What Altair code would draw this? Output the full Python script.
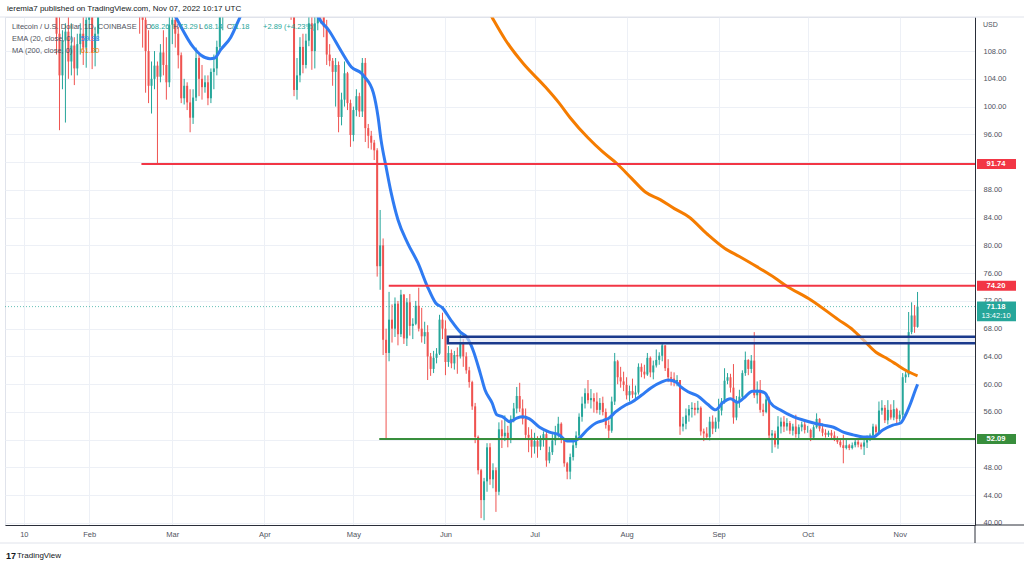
import json
import numpy as np
import pandas as pd
import altair as alt

# ---------------- data ----------------
first_open = 128.0  # open of Jan 21, 2022

close_jan = [110.5,104.5,109.5,110.8,106.5,108.8,105.5,109.0,110.5,108.5,112.5]
high_jan = [129.5,113.0,111.0,112.0,113.5,112.0,110.0,110.5,112.0,113.0,114.0]
low_jan = [107.5,96.6,102.5,97.7,104.0,104.5,103.1,104.5,107.5,106.0,105.6]

close_feb = [113.5,107.8,110.5,126.0,129.0,134.0,142.0,137.5,140.0,132.0,126.0,127.0,125.0,127.5,134.0,131.0,118.0,113.5,112.5,108.0,103.0,104.0,105.9,104.3,107.8,106.0,103.5,111.8]
high_feb = [115.5,114.0,111.5,127.0,131.0,135.0,145.0,143.0,142.0,145.0,134.0,130.0,129.0,129.0,135.0,135.0,132.0,120.0,115.5,113.5,111.0,106.5,108.0,106.5,109.0,111.0,110.0,113.0]
low_feb = [109.5,105.4,105.8,109.5,124.0,127.0,132.0,131.0,135.0,130.0,124.0,123.0,123.0,121.0,127.0,128.0,116.5,110.5,108.5,102.0,100.5,99.0,102.5,91.74,103.5,104.5,101.0,102.8]

close_mar = [112.5,110.5,107.4,101.2,103.0,100.6,98.4,101.3,107.0,104.0,102.8,103.5,101.2,105.0,105.5,108.6,113.5,117.0,119.0,116.0,117.0,120.5,121.5,124.0,124.5,124.5,129.0,128.0,130.0,131.0,126.0]
high_mar = [116.0,114.0,111.5,107.8,104.0,103.5,102.5,102.5,108.5,107.5,106.0,104.5,104.5,105.5,107.5,109.5,115.0,118.5,121.0,120.0,119.0,123.0,123.0,125.0,128.0,126.0,130.0,133.0,133.0,134.0,133.0]
low_mar = [109.0,108.5,105.5,100.5,100.3,99.5,96.3,97.5,100.8,101.5,101.0,102.0,100.2,100.5,102.5,104.5,108.0,111.0,115.5,114.5,114.0,116.5,118.0,119.5,122.0,122.5,123.5,126.0,126.5,127.0,124.5]

close_apr = [131.5,131.0,135.0,133.5,128.0,119.0,120.5,115.5,116.0,113.0,102.4,104.5,108.6,106.0,109.5,112.0,108.0,112.0,115.0,113.5,111.5,107.5,106.6,105.0,106.0,98.5,101.0,104.8,100.5,95.9]
high_apr = [132.5,136.0,136.0,136.0,134.5,128.5,122.0,121.5,117.0,117.5,113.0,107.0,110.0,110.5,110.5,113.5,113.0,113.5,117.0,117.0,118.0,112.5,109.0,107.0,107.0,106.5,102.0,106.5,105.0,101.0]
low_apr = [123.0,129.5,130.0,129.0,127.5,117.5,117.0,114.0,114.5,112.5,101.5,101.0,103.5,104.8,105.5,108.7,105.3,105.5,111.0,112.0,110.0,106.0,105.8,103.0,100.0,96.3,97.3,100.0,99.5,94.2]

close_may = [99.5,101.5,99.3,106.3,96.9,95.8,94.8,93.7,77.0,80.0,66.4,64.5,69.3,68.0,71.6,67.2,72.9,66.6,71.8,68.4,68.7,71.3,68.0,66.9,67.5,64.0,62.2,63.8,64.4,69.3,68.0]
high_may = [100.0,102.5,102.0,107.0,107.0,97.5,96.5,95.2,94.0,85.1,81.0,68.0,73.3,71.5,72.5,72.0,73.6,73.0,72.4,73.0,69.5,72.0,73.9,71.0,69.0,68.5,64.5,64.8,65.2,70.0,70.3]
low_may = [95.0,98.6,98.5,98.5,94.9,94.0,93.8,92.3,75.5,73.6,64.2,52.2,63.3,66.0,66.8,65.6,66.8,65.8,65.5,67.0,66.5,68.5,67.6,66.0,65.8,60.6,61.2,61.6,63.0,64.2,66.5]

close_jun = [63.2,64.5,63.0,64.2,64.0,66.0,64.0,62.0,60.3,56.8,52.4,47.6,43.3,46.0,50.9,46.3,47.6,44.5,53.5,52.5,53.0,52.0,55.0,56.5,58.3,56.5,55.0,52.7,52.3,51.0]
high_jun = [69.2,65.5,65.0,64.8,65.3,67.2,66.5,64.6,62.5,60.5,57.3,52.6,47.8,46.5,51.5,51.5,48.6,48.0,54.5,54.8,55.5,54.0,55.5,57.3,59.6,60.2,57.8,56.5,53.8,53.5]
low_jun = [61.3,62.5,62.3,62.1,61.5,63.7,62.5,61.5,59.5,56.3,51.5,47.0,40.7,40.4,44.5,45.5,45.0,41.6,44.0,50.8,51.8,50.9,51.5,54.5,55.8,56.0,54.2,52.2,50.2,49.4]

close_jul = [51.8,51.0,52.0,52.8,49.0,50.2,51.9,52.9,54.3,52.0,48.6,47.4,49.5,51.2,52.6,55.3,57.2,58.7,57.7,58.0,57.5,56.3,57.3,56.0,54.1,53.3,57.5,63.3,61.0,60.4,59.9]
high_jul = [53.0,52.5,52.6,53.2,53.2,51.0,52.8,54.0,55.3,54.5,52.2,48.8,50.0,51.9,53.2,55.8,58.2,59.4,60.6,59.3,58.7,58.8,58.0,58.2,56.5,54.8,58.2,64.5,63.5,62.5,61.8]
low_jul = [50.0,49.4,50.5,51.0,48.1,48.6,49.8,51.2,52.3,51.5,48.1,46.3,46.3,49.0,50.8,52.2,54.6,56.5,57.2,56.5,55.9,55.8,55.6,55.5,53.6,52.2,53.0,57.0,60.0,59.5,59.0]

close_aug = [58.4,59.0,58.5,58.8,62.5,61.8,61.4,63.8,61.7,62.7,63.5,64.1,65.6,62.3,61.0,60.8,60.4,60.6,53.9,54.3,55.5,56.4,56.6,56.3,56.6,53.2,52.9,52.4,54.6,53.6,54.6]
high_aug = [61.0,59.8,60.8,59.8,63.0,63.0,62.8,64.5,64.0,63.4,65.0,64.6,65.8,65.6,63.6,61.8,61.7,61.3,60.6,55.3,56.5,57.0,57.4,57.3,57.6,56.8,53.6,53.8,55.3,55.5,55.2]
low_aug = [57.8,57.5,58.0,57.6,58.5,61.0,60.8,61.2,61.0,60.7,62.4,62.8,63.3,61.9,60.3,59.8,59.7,59.7,52.7,53.2,53.5,54.6,55.2,55.5,55.8,52.6,51.8,52.0,51.9,52.8,53.1]

close_sep = [56.2,57.5,60.5,61.0,59.5,55.2,57.6,58.2,61.6,63.5,62.2,63.4,58.4,59.2,56.3,56.0,57.8,52.6,52.9,51.3,53.9,54.6,53.9,54.4,53.3,53.9,52.8,53.8,54.2,53.4]
high_sep = [57.9,58.0,62.3,61.6,61.5,62.9,58.3,59.2,62.0,64.7,63.6,64.2,67.5,60.4,60.6,57.2,58.4,58.2,53.4,53.3,55.4,55.2,55.4,55.1,54.7,54.3,55.6,54.2,54.6,54.6]
low_sep = [53.6,55.5,57.2,60.0,58.8,54.3,54.8,56.6,57.8,61.2,61.3,61.6,58.0,57.2,55.9,55.4,55.8,52.2,50.1,50.9,50.7,52.9,53.1,53.3,52.8,52.6,52.3,52.0,53.2,52.9]

close_oct = [53.4,52.3,53.8,55.0,53.6,53.0,52.7,53.0,52.6,52.2,51.7,51.2,50.8,51.2,50.8,51.2,51.7,51.3,51.0,51.6,52.2,52.6,53.9,53.1,56.2,56.6,54.8,56.3,55.2,56.4,55.0]
high_oct = [54.0,53.6,54.1,55.8,55.1,54.3,53.5,53.3,53.4,53.2,52.5,52.0,52.7,52.2,51.4,51.6,52.0,52.2,51.6,52.0,52.6,52.9,54.3,54.2,57.5,57.7,57.0,57.7,57.1,57.7,56.6]
low_oct = [53.0,51.8,52.0,53.6,53.2,52.5,52.3,52.4,52.0,51.8,51.4,50.9,48.6,50.6,50.5,50.6,50.9,50.9,50.6,49.8,50.8,51.8,52.2,52.5,52.9,55.6,54.4,54.2,54.9,54.8,54.3]

close_nov = [55.6,61.0,61.4,67.5,69.9,68.26,71.18]
high_nov = [56.2,61.6,61.8,70.4,71.8,71.4,73.29]
low_nov = [54.6,55.0,60.2,61.0,67.2,67.4,68.14]

# EMA(20) and MA(200) (day number since Jan 10, value)
ema_day = [45,51.3,57,59.7,62.7,64.3,66.3,69.7,72.7,80,88,94,99.3,102.7,107,110.3,113.7,114.7,117.7,119.3,120.3,122,123.7,126,129.3,132.7,136,138.7,141,143.7,147,149.3,151.3,153.7,155.3,157.7,159.3,161.3,163.7,166,168,170.3,173.7,177,180.3,183,185.3,187,189.7,192.7,195.3,197,199.3,202.7,204.7,208,211.3,214.7,217,219.7,221.3,223.7,227,230.3,233,235.3,238,240.3,243,245.3,247.7,249.7,251.3,254.7,259.3,262.7,266,269.3,272.7,276,279.3,282.7,286,289.3,292.7,295.3,297,298.7,300.3,301]
ema_val = [118,112.8,108.6,107.4,106.9,107.0,108.2,110.0,112.8,120,124,120,112.8,111.0,107.9,105.7,104.8,104.3,102.0,98.5,95.2,91.3,87.6,83.7,80.3,77.5,74.0,71.7,71.0,69.3,67.5,66.7,64.9,61.6,59.2,57.3,55.6,55.3,54.6,55.1,55.3,55.0,53.8,53.1,52.7,51.8,51.8,52.2,53.4,54.4,54.8,55.1,56.0,57.0,57.4,58.4,59.5,60.3,60.6,60.3,59.6,58.9,58.3,57.1,56.3,57.3,57.9,57.4,58.2,59.0,59.0,58.7,57.4,56.3,55.3,54.8,54.4,54.1,53.8,53.1,52.7,52.4,52.4,53.4,54.1,54.4,55.6,57.3,59.2,59.98]
ma_day = [150,157.9,162.2,168.2,175.5,180.3,184,190,194.9,199.7,204.6,209.3,214.3,219.1,224,230,236,241,247,253,256.7,265.2,274.3,279.3,282.7,287,290.3,293.7,297,301]
ma_val = [119,112.7,109.6,106.2,102.9,100.5,98.4,95.5,93.5,91.8,89.7,87.7,86.6,85.3,84.1,81.7,79.6,78.4,76.9,75.3,74.2,72.1,69.3,67.8,66.4,64.6,63.8,62.9,62.0,61.2]

# horizontal levels and zone
red_levels = [91.74, 74.20]
red_level_start = [39.6, 122.9]
green_levels = [52.09]
green_level_start = [119.7]
zone_low, zone_high, zone_start = 65.9, 66.85, 142.8
last_price = 71.18
countdown = "13:42:10"

# axis ticks
month_days = [0, 22, 50, 81, 111, 142, 172, 203, 234, 264, 295]
month_labels = ["10", "Feb", "Mar", "Apr", "May", "Jun", "Jul", "Aug", "Sep", "Oct", "Nov"]
price_ticks = list(range(40, 109, 4))
covered_price_labels = [52, 92]   # hidden under the level tags in the reference

# ---------------- tables ----------------
closes = close_jan + close_feb + close_mar + close_apr + close_may + close_jun + close_jul + close_aug + close_sep + close_oct + close_nov
highs = high_jan + high_feb + high_mar + high_apr + high_may + high_jun + high_jul + high_aug + high_sep + high_oct + high_nov
lows = low_jan + low_feb + low_mar + low_apr + low_may + low_jun + low_jul + low_aug + low_sep + low_oct + low_nov
dates = pd.date_range("2022-01-21", "2022-11-07", freq="D")
days = (dates - pd.Timestamp("2022-01-10")).days
opens = [first_open] + closes[:-1]
df = pd.DataFrame({"day": days, "open": opens, "high": highs, "low": lows, "close": closes})

ema_df = pd.DataFrame({"day": ema_day, "v": ema_val})
ma_df = pd.DataFrame({"day": ma_day, "v": ma_val})
red_df = pd.DataFrame({"p": red_levels, "x0": red_level_start, "x1": 330})
green_df = pd.DataFrame({"p": green_levels, "x0": green_level_start, "x1": 330})
zone_df = pd.DataFrame({"lo": [zone_low], "hi": [zone_high], "x0": [zone_start], "x1": [330]})
last_df = pd.DataFrame({"p": [last_price], "label": [f"{last_price:.2f}"], "cd": [countdown]})
red_tag_df = pd.DataFrame({"p": red_levels, "label": [f"{v:.2f}" for v in red_levels]})
green_tag_df = pd.DataFrame({"p": green_levels, "label": [f"{v:.2f}" for v in green_levels]})
dummy = pd.DataFrame({"k": [0]})

# ---------------- styles ----------------
FONT = "Liberation Sans"
UP, DOWN = "#26a69a", "#ef5350"
RED_L, GREEN_L = "#f23645", "#388e3c"
EMA_C, MA_C = "#2f7bf2", "#f57c00"
NAVY = "#1b3a8c"
GRID = "#edf0f6"
AXIS = "#2a2e39"
TXT = "#50535e"

xs = alt.Scale(domain=[-4.667, 318.667], nice=False, zero=False)
ys = alt.Scale(domain=[39.71, 112.91], nice=False, zero=False)

x_axis = alt.Axis(values=month_days, title=None, grid=True, gridColor=GRID, ticks=False, tickSize=0,
                  domainColor=AXIS, labelFont=FONT, labelFontSize=7.5, labelColor=TXT, labelPadding=5,
                  labelExpr=f"{json.dumps(month_labels)}[indexof({json.dumps(month_days)}, datum.value)]")
y_axis = alt.Axis(orient="right", values=price_ticks, title=None, grid=True, gridColor=GRID,
                  ticks=False, tickSize=0, domainColor=AXIS, labelFont=FONT, labelFontSize=7.5,
                  labelColor=TXT, labelPadding=8, labelAlign="left", labelBaseline="middle",
                  labelExpr=f"indexof({json.dumps(covered_price_labels)}, datum.value) >= 0 ? '' : format(datum.value, '.2f')")

def X(f):
    return alt.X(f, scale=xs, axis=x_axis)

def Y(f):
    return alt.Y(f, scale=ys, axis=y_axis)

def txt(s, x, y, color, size=8, weight="normal", align="left"):
    return alt.Chart(dummy).mark_text(text=s, align=align, baseline="middle", font=FONT, fontSize=size,
                                      fontWeight=weight, color=color).encode(x=alt.value(x), y=alt.value(y))

last_line = alt.Chart(last_df).mark_rule(color=UP, strokeDash=[1, 2], strokeWidth=1, opacity=0.7).encode(
    x=alt.value(0), x2=alt.value(970), y=Y("p:Q"))

up = alt.Chart(df).transform_filter("datum.close >= datum.open")
dn = alt.Chart(df).transform_filter("datum.close < datum.open")
up_wick = up.mark_rule(color=UP, strokeWidth=1, clip=True).encode(x=X("day:Q"), y=Y("low:Q"), y2="high:Q")
dn_wick = dn.mark_rule(color=DOWN, strokeWidth=1, clip=True).encode(x=X("day:Q"), y=Y("low:Q"), y2="high:Q")
up_body = up.mark_bar(color=UP, size=2, clip=True).encode(x=X("day:Q"), y=Y("open:Q"), y2="close:Q")
dn_body = dn.mark_bar(color=DOWN, size=2, clip=True).encode(x=X("day:Q"), y=Y("open:Q"), y2="close:Q")

ema = alt.Chart(ema_df).mark_line(color=EMA_C, strokeWidth=3, clip=True, interpolate="monotone").encode(
    x=X("day:Q"), y=Y("v:Q"))
ma = alt.Chart(ma_df).mark_line(color=MA_C, strokeWidth=3, clip=True, interpolate="monotone").encode(
    x=X("day:Q"), y=Y("v:Q"))

red_lines = alt.Chart(red_df).mark_rule(color=RED_L, strokeWidth=2, clip=True).encode(
    x=X("x0:Q"), x2="x1:Q", y=Y("p:Q"))
green_lines = alt.Chart(green_df).mark_rule(color=GREEN_L, strokeWidth=2, clip=True).encode(
    x=X("x0:Q"), x2="x1:Q", y=Y("p:Q"))
zone = alt.Chart(zone_df).mark_rect(fill="#dfe4f4", fillOpacity=0.6, stroke=NAVY, strokeWidth=2.5, clip=True).encode(
    x=X("x0:Q"), x2="x1:Q", y=Y("lo:Q"), y2="hi:Q")

# price tags on the right axis
red_tag = alt.Chart(red_tag_df).transform_calculate(lo="datum.p - 0.72", hi="datum.p + 0.72").mark_rect(
    color=RED_L).encode(x=alt.value(972), x2=alt.value(1011), y=Y("lo:Q"), y2="hi:Q")
red_tag_t = alt.Chart(red_tag_df).mark_text(color="white", font=FONT, fontSize=7.5, fontWeight="bold",
                                            align="center", baseline="middle").encode(
    x=alt.value(991), y=Y("p:Q"), text="label:N")
green_tag = alt.Chart(green_tag_df).transform_calculate(lo="datum.p - 0.72", hi="datum.p + 0.72").mark_rect(
    color=GREEN_L).encode(x=alt.value(972), x2=alt.value(1011), y=Y("lo:Q"), y2="hi:Q")
green_tag_t = alt.Chart(green_tag_df).mark_text(color="white", font=FONT, fontSize=7.5, fontWeight="bold",
                                                align="center", baseline="middle").encode(
    x=alt.value(991), y=Y("p:Q"), text="label:N")
last_tag = alt.Chart(last_df).transform_calculate(lo="datum.p - 2.1", hi="datum.p + 0.72").mark_rect(
    color=UP).encode(x=alt.value(972), x2=alt.value(1011), y=Y("lo:Q"), y2="hi:Q")
last_tag_t = alt.Chart(last_df).mark_text(color="white", font=FONT, fontSize=7.5, fontWeight="bold",
                                          align="center", baseline="middle").encode(
    x=alt.value(991), y=Y("p:Q"), text="label:N")
last_tag_cd = alt.Chart(last_df).transform_calculate(q="datum.p - 1.3").mark_text(
    color="white", font=FONT, fontSize=7.5, align="center", baseline="middle").encode(
    x=alt.value(991), y=Y("q:Q"), text="cd:N")

# frame extensions
frame = [
    alt.Chart(dummy).mark_rule(color="#e0e3eb", strokeWidth=1).encode(x=alt.value(-5), x2=alt.value(1019), y=alt.value(0)),
    alt.Chart(dummy).mark_rule(color="#e0e3eb", strokeWidth=1).encode(x=alt.value(-5), x2=alt.value(1019), y=alt.value(526)),
    alt.Chart(dummy).mark_rule(color=AXIS, strokeWidth=1).encode(x=alt.value(970), x2=alt.value(1019), y=alt.value(508)),
    alt.Chart(dummy).mark_rule(color=AXIS, strokeWidth=1).encode(x=alt.value(970), y=alt.value(508), y2=alt.value(526)),
]

texts = [
    txt("ieremia7 published on TradingView.com, Nov 07, 2022 10:17 UTC", 2, -8, "#131722", 8),
    txt("Litecoin / U.S. Dollar, 1D, COINBASE", 7, 9.7, TXT, 7.5),
    txt("O", 140.7, 9.7, TXT, 7.5), txt("68.26", 145.7, 9.7, UP, 7.5),
    txt("H", 168, 9.7, TXT, 7.5), txt("73.29", 174, 9.7, UP, 7.5),
    txt("L", 194, 9.7, TXT, 7.5), txt("68.14", 199, 9.7, UP, 7.5),
    txt("C", 221.7, 9.7, TXT, 7.5), txt("71.18", 225.7, 9.7, UP, 7.5),
    txt("+2.89 (+4.23%)", 258, 9.7, UP, 7.5),
    txt("EMA (20, close, 0)", 7, 22.3, TXT, 7.5), txt("59.98", 75.7, 22.3, EMA_C, 7.5),
    txt("MA (200, close, 0)", 7, 33.7, TXT, 7.5), txt("61.20", 75.7, 33.7, MA_C, 7.5),
    txt("USD", 978, 8, TXT, 7),
    txt("17", 1, 539, "#131722", 9, "bold"),
    txt("TradingView", 12, 539, "#131722", 8),
]

chart = alt.layer(
    last_line, up_wick, dn_wick, up_body, dn_body, ema, ma,
    red_lines, green_lines, zone,
    red_tag, red_tag_t, green_tag, green_tag_t, last_tag, last_tag_t, last_tag_cd,
    *frame, *texts
).properties(
    width=970, height=508,
    autosize=alt.AutoSizeParams(type="none"),
    padding={"left": 5, "top": 17, "right": 49, "bottom": 42},
    background="white",
).configure_view(stroke="#e0e3eb")

chart.save("out.html", embed_options={"renderer": "svg", "actions": False})
